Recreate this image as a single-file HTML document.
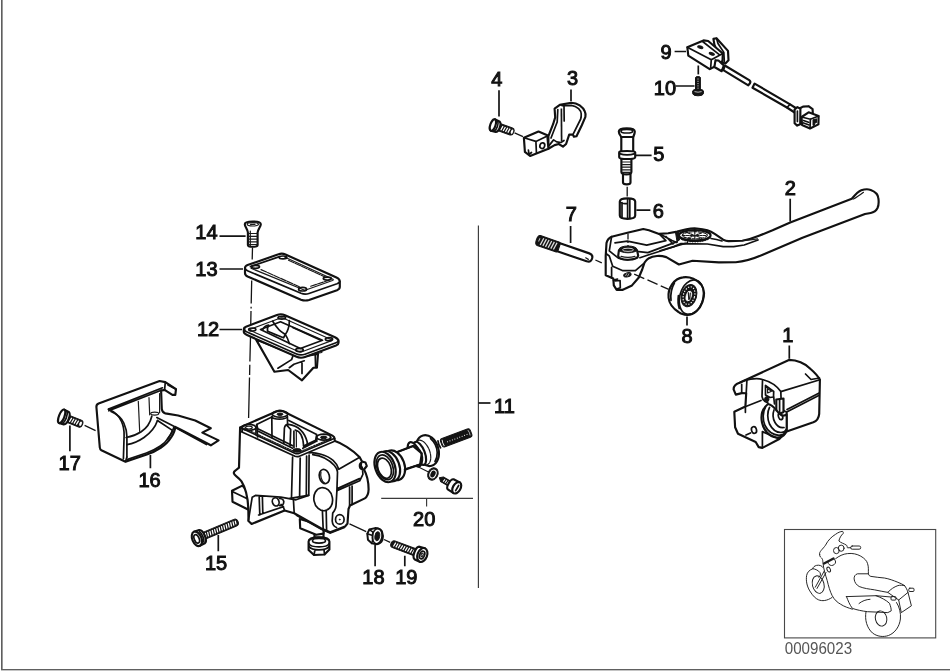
<!DOCTYPE html>
<html>
<head>
<meta charset="utf-8">
<title>Parts diagram</title>
<style>
html,body{margin:0;padding:0;background:#fff;}
body{width:950px;height:671px;overflow:hidden;position:relative;font-family:"Liberation Sans",sans-serif;}
svg{position:absolute;left:0;top:0;display:block;filter:grayscale(1);}
.p{fill:#fff;stroke:#111;stroke-width:2.15;stroke-linejoin:round;stroke-linecap:round;}
.l{fill:none;stroke:#111;stroke-width:1.7;stroke-linejoin:round;stroke-linecap:round;}
.t{fill:none;stroke:#1a1a1a;stroke-width:1.2;stroke-linejoin:round;stroke-linecap:round;}
.k{fill:#141414;stroke:#141414;stroke-width:1;stroke-linejoin:round;}
.ld{fill:none;stroke:#141414;stroke-width:1.7;}
.ax{fill:none;stroke:#141414;stroke-width:1.3;}
.g{fill:none;stroke:#3a3a3a;stroke-width:1.15;}
.n{font-family:"Liberation Sans",sans-serif;font-size:20px;fill:#111;stroke:#111;stroke-width:1.0;text-anchor:middle;}
.b{fill:none;stroke:#1c1c1c;stroke-width:0.95;stroke-linejoin:round;stroke-linecap:round;}
</style>
</head>
<body>
<svg width="950" height="671" viewBox="0 0 950 671">
<!-- FRAME -->
<g id="frame">
<rect x="1" y="0" width="1" height="670" fill="#5e5e5e"/>
<rect x="2" y="0" width="1" height="670" fill="#9a9a9a"/>
<rect x="1" y="669" width="949" height="1" fill="#606060"/>
<rect x="1" y="670" width="949" height="1" fill="#c4c4c4"/>
</g>
<!-- LEADERS -->
<g id="leaders">
<path class="ld" d="M219.5,236.1H245.6M219.5,269H243M219.5,329.5H242M69.9,425.6V451.2M150.4,455V468.3M218.3,535V551.2M375.1,544.4V566.2M404.8,555.8V566.2M499,90.3V116.4M571,89.5V101.3M635.2,155.4H651.6M636.4,210.2H650.4M674.6,51.5H686M675.6,86H694.5M570.6,226V243M790.2,198.8V221.6M687,316.5V325.6M789.3,345.5V358.7"/>
<path class="g" d="M478.4,225.6V588M381.2,498.4H473M426.6,498.4V506.5"/><path class="ld" stroke-width="1.4" d="M478.4,403H490.5"/>
</g>
<!-- PARTS-BEGIN -->
<!-- axis 14-13-12-body -->
<path class="ax" d="M252.5,247.5L252.2,259.5M251.7,280.5L251.2,303.5M251.1,306.8L251.1,308.6M251.0,311.0L250.7,327.0M250.5,337.0L249.9,361.5M249.8,364.8L249.6,375.0M249.5,377.5L248.6,418.0"/>
<!-- part 14 screw -->
<g id="p14">
<path class="p" d="M244.8,224.2C244.8,220.6 260.8,220.6 260.8,224.2C260.8,226.5 258,229 257.6,232.5L257.6,245C257.6,247.4 247.9,247.4 247.9,245L247.9,232.5C247.5,229 244.8,226.5 244.8,224.2Z"/>
<ellipse class="t" cx="252.8" cy="224.3" rx="5.6" ry="1.7"/>
<path class="t" d="M250.5,224.3H255M248.5,233.5H257M248.5,236.3H257M248.5,239.1H257M248.5,241.9H257M248.5,244.5H257M250.3,231V245.5"/>
</g>
<!-- part 13 gasket -->
<g id="p13">
<path class="p" d="M245,268Q245,266 247.6,265L278.5,254.3Q282,253 285.5,254.5L336.5,277.5Q339.8,279 339.8,281.5L339.8,287Q339.8,289 337,290.2L309,300Q305,301.2 301,299.7L247.6,276.5Q245,275.3 245,273Z"/>
<path class="l" d="M245.2,268.5Q245.7,270 248,271L301,293.3Q305,294.8 309,293.5L337,283.8Q339.6,282.8 339.8,281.5"/>
<path class="l" stroke-width="1.9" d="M250.5,266.6L279.5,256.6"/>
<path class="t" d="M284.5,257L332.5,279Q334,279.8 332.5,280.5L306.5,289.8Q305,290.3 303.5,289.7L251,268.3"/>
<path class="t" d="M288.5,260.2L326,277.4M261,269.6L299.7,286.9M310.7,286.2L329,280.2" stroke-dasharray="6 1.2"/>
<ellipse class="l" cx="255.5" cy="266.8" rx="4" ry="1.5"/>
<ellipse class="l" cx="283" cy="257.4" rx="3.8" ry="1.4"/>
<ellipse class="l" cx="327.3" cy="278.6" rx="4" ry="1.5"/>
<ellipse class="l" stroke-width="2" cx="302.6" cy="289.2" rx="4" ry="1.8"/>
</g>
<!-- part 12 diaphragm -->
<g id="p12">
<path class="p" d="M256.1,339.6L274.4,371.7L288.2,370L302,380.3L313.4,367.7L316.9,367.7L318,353.9L300,357Z"/>
<path class="l" d="M277.9,368.2L291.6,359.6L292.8,356.2M289.3,367.7L293.9,364.2L304.3,360.8M302,363L302,373.4M315.2,353.3L315.6,367"/>
<path class="t" d="M319.5,353L321.8,352.5L321.5,349.5"/>
<path class="p" d="M243.8,329Q243.8,327.5 246,326.7L277,315Q281,313.5 285,315.2L335,337.3Q338.5,339 338.5,341L338.5,343Q338.5,344.6 336,345.6L305,357Q300.5,358.6 296,356.6L247,335Q243.8,333.6 243.8,331.8Z"/>
<path class="l" d="M244,329.6Q244.6,331 247,332L296,353.8Q300.5,355.8 305,354.2L336,342.8Q338.3,342 338.5,341"/>
<path class="t" d="M250.5,329.3L280.5,318Q282,317.5 283.5,318.2L331,339.5Q332.3,340.3 331,340.9L302,351.8Q300.5,352.3 299,351.7L250.5,330.5Q249.5,329.9 250.5,329.3Z"/>
<path class="l" d="M260.5,329.5L280.5,321.8L322.5,340.3L300.3,348.5Z"/>
<path class="l" stroke-width="1.3" d="M272.7,321.2C275,325 277,327.5 279,329.8C281,332 283,333 285.3,334.4C287,337 288.3,340 289.3,343.6M289.3,320.6C289.5,323.5 289,326.5 288.2,328.7C287.5,331 286.5,333 285.3,334.4M263,329.2C264,327 266,325.5 268.7,325.2C267.5,327 267,329 267.5,331C272,333.5 278,335.5 283.6,337.8L285.3,334.4M292.8,327.5L320.3,340.1"/>
<ellipse class="l" cx="252.3" cy="329.5" rx="3.6" ry="1.5"/>
<ellipse class="l" stroke-width="2" cx="281.8" cy="317.7" rx="3.8" ry="1.4"/>
<ellipse class="l" cx="329" cy="339.2" rx="3.6" ry="1.5"/>
<ellipse class="l" stroke-width="2" cx="299.5" cy="350" rx="3.8" ry="1.6"/>
<path class="l" stroke-width="2.4" d="M244.6,328.3L244.6,331.5"/>
</g>
<!-- MAIN BODY -->
<g id="body">
<!-- bottom nut -->
<path class="p" d="M314.5,527L314.5,537.5L323.5,537.5L323.5,530Z"/>
<path class="p" d="M308.6,541.5C308.6,536 329.4,536 329.4,541.5L329.4,549.5L324.5,554.5L314,555L308.6,550Z"/>
<path class="l" d="M308.8,543.5C311,548 327,548 329.2,543.5M309,546.5C312,551 326,551 329,546.5M314,555L315,549.5M324.5,554.5L324,549.3"/>
<ellipse class="l" cx="319" cy="540.8" rx="6.5" ry="2.3"/>
<!-- pad -->
<path class="p" d="M299.8,519L300.2,528.3L316.2,534.8L323.5,533.6L323.5,526Z"/>
<!-- lower-left block -->
<path class="p" d="M242.3,485.6L232,490.8L232.5,501.8L248,509.5L252,496Z"/>
<path class="l" d="M232.2,491.5L246.8,498.6"/>
<!-- silhouette -->
<path class="p" d="M240.1,427.4L277,411.2Q280,409.9 283,411.3L332.5,435.6Q334.8,436.8 334.6,439.5L335,441C341,443 352,449 359.7,457.3L362,461.5L365.5,462.5L366.8,466L364,469.5C366.5,474 368.6,482 368.6,489.6C368.5,494 367,497 364.8,498.4L350,505.5L348.5,509L347.5,523.5L345,526.6L330.2,532.3L321.3,528.5L294.2,513.2L284.6,510.5L251.6,524L248.5,521L248.3,508C247.8,497 245,487 241.5,481.4C238,476.5 234,475.5 233.8,473.2Q233.6,471.5 235.5,470.5L239,467.6Z"/>
<!-- bracket flange -->
<path class="l" d="M248.4,520.7L252.2,497.2L255.4,495.4L280.8,497.2L296,499.8L308.6,495.4M259.2,497.2L259.8,515M262.4,497.2L262.8,513.2M258.6,515L283.3,506.7L284.6,510.5M283.5,506.8L281,504.5"/>
<ellipse class="l" cx="275.7" cy="501.9" rx="3.3" ry="4.2" transform="rotate(-20 275.7 501.9)"/>
<path class="l" d="M279.5,498.5C283,498.5 284.5,501 283.5,503.5C283,505 281,506 279.5,505.5"/>
<path class="l" d="M293.4,499.1L294.2,513.2"/>
<path class="ld" d="M296,515L321.3,529.2L330.2,533L345,527.3" stroke-width="2.2"/>
<!-- top rim -->
<path class="l" d="M240.3,428.3L240.8,431.4L295,456.3Q297.2,457.2 299.4,456.2L334,441.5"/>
<path class="l" d="M240.1,427.4L294.8,453.2Q297.1,454.2 299.4,453.2L334.6,438.3" stroke-width="1.8"/>
<path class="t" d="M244,428L293.5,451.2M300.5,451.5L331,438.6" stroke-dasharray="1.6 1.2" stroke-width="1.4"/>
<!-- inner opening -->
<path class="l" d="M257.8,428.7L256.6,424.4L272.4,416.8M288.8,420.5L316.7,434.4L315.4,441.8L302.8,448.3M257.8,431L292.6,448.3M257.8,428.7L292.8,445.8M303.5,446L315.6,440.3"/>
<path class="l" d="M256.8,424.5L257.6,437M271.8,417L272,437.5M287.4,416.5L287.6,426M271.7,416.5C273,420 286,420 287.5,416.5"/>
<ellipse class="l" cx="280" cy="414" rx="7.8" ry="3.2"/>
<ellipse class="k" cx="280" cy="414.2" rx="3" ry="1.2"/>
<!-- D arch -->
<path class="l" d="M283.8,443.3L284.4,428.1Q285,424.3 288.5,424.4C296,425.5 304,430 307.2,442L307.3,445.5M290.1,445.8L290.7,429.3M295.2,430C299.5,431 303,435 303.6,445.8M286.5,425L290.7,429.3"/>
<path class="ld" d="M293.9,430.5L294,448.3" stroke-width="2"/>
<path class="t" d="M296.3,431L296.4,447"/>
<!-- corner bosses -->
<ellipse class="l" cx="248.9" cy="427.4" rx="7" ry="3"/>
<ellipse class="t" cx="248.9" cy="427.6" rx="3.4" ry="1.4"/>
<path class="l" d="M242,428L242.3,431.5M255.9,428L256,433"/>
<ellipse class="l" cx="323.7" cy="437.2" rx="7" ry="3"/>
<ellipse class="k" cx="323.7" cy="437.4" rx="3.2" ry="1.3"/>
<path class="l" d="M316.8,437.5L316.8,441.3M330.6,437.6V439.8"/>
<ellipse class="k" cx="297.1" cy="450.4" rx="4.2" ry="1.8"/>
<!-- front vertical edges -->
<path class="l" d="M292.6,457.2L291.5,497.8M300.2,458L299.6,497M306.6,456L306.3,495.5M309.1,455L308.8,495.3" />
<path class="l" d="M290,498.4L308,495.3"/>
<!-- right block -->
<path class="l" d="M309,452.8C315,452 327,455 333.1,460.4C336,463 338,466.5 338.8,469.3L359.7,457.3M312.8,454.6C320,455.5 329,459.5 334.4,465.5C336.5,468 337.4,470 337.5,472L336.9,490.8L359.7,480.8L362.9,474.4M337.3,488.6L359.5,478.6M349.6,487L349.6,505.5M352.1,486L352.1,504.3M362.3,461.7C360.5,462.5 359.3,464.5 359.6,466.5C360,468.5 362,469.7 364,469.5M362.5,468.5L362.9,474.4M361.5,463.2C360.8,464.5 361,466.5 362.3,467.6"/>
<ellipse class="l" cx="324.4" cy="476.5" rx="5" ry="7.2" transform="rotate(-14 324.4 476.5)"/>
<path class="t" d="M321,472C320,476 321.5,481 324.5,483"/>
<ellipse class="l" cx="323.2" cy="499.2" rx="9.3" ry="11.6" transform="rotate(-10 323.2 499.2)"/>
<path class="l" d="M322.4,510.5L323.2,529.6M326.2,510.3L326.6,530.6M336.9,490.8L336,506C335.8,509 334,511.5 332.7,513.1L332.2,521C332.5,524.5 334,526.5 336.5,527.5"/>
<ellipse class="l" cx="339.8" cy="519.4" rx="4.3" ry="4.8"/>
<circle class="k" cx="339.8" cy="519.6" r="0.5"/>
</g>
<!-- part 16 cover -->
<g id="p16">
<path class="p" d="M96.4,407Q96.2,404.5 98.6,403.4L159.6,381L165.3,382.1L176,389.2L175.3,394.9L172.4,394.9L164.6,389.9L161.1,390.6L161.8,409.1Q162.5,412.8 165.3,413.4L178.1,415.5L195.2,420.5L210.8,428.3L202.3,432.6L218.6,440.4L210.8,445.3L180.9,429.7L175.3,426.9C175,432 170,442 161.1,447.5C155,451.5 150,453.5 146.8,454.6L125.5,461.7L101.4,450.3Q100,449.5 99.8,447.5Z"/>
<path class="l" d="M108.5,409.1L162.5,387.8M108.8,410.8L161.3,390.2" />
<path class="l" d="M108.5,409.3C114,411.5 119,416 121.5,421.5C123.5,426 124.3,431 124.1,436L123.4,458.8"/>
<path class="l" d="M111,411.5C117,414 121.5,418 123.8,423C125.8,427.5 126.9,432 126.9,436.5L126.9,457"/>
<path class="l" d="M126.2,437.5C132,436.5 137,434.5 141.2,431.8C146,428.5 150,424 151.8,416.2M126.9,444.6C133,443.5 139,441 144,437.5C149,434 155,428 157.5,420.5M125.6,461.5L126.9,457"/>
<path class="t" d="M138.3,401.3L139.7,431.8M149,397.7L149.7,414.8M159.6,393.5L159.6,412.7"/>
<ellipse class="t" cx="154.7" cy="413.6" rx="4" ry="1.5"/>
<path class="l" d="M156.8,417.6L175.3,426.9M176.7,428.3L206.5,444.6M157.5,420.5L172.4,430.4C171,434.5 169,437 167.4,439"/>
<path class="l" d="M165.3,382.1L164.6,389.9M176,389.2L168,385"/>
<path class="l" stroke-width="1.4" d="M127,459.6L146.4,453C150,451.8 155,449.6 160.3,446C167,441.5 172.5,433 173.8,427.5"/>
</g>
<!-- screw 17 -->
<g transform="translate(58.8,415.2) rotate(21.5)">
<path class="k" d="M10,-3.7L22.8,-3.7Q25.5,-3.7 25.5,0Q25.5,3.7 22.8,3.7L10,3.7Z"/>
<path d="M13,-2.3L12.2,2.3M15.5,-2.3L14.7,2.3M18,-2.3L17.2,2.3M20.5,-2.3L19.7,2.3" stroke="#fff" stroke-width="1.3" fill="none"/>
<ellipse cx="23.4" cy="0" rx="1.2" ry="2.3" fill="#fff"/>
<path class="p" stroke-width="2.5" d="M3,-7.2L8,-6.7C11.5,-5.5 11.5,5.5 8,6.7L3,7.2Z"/>
<ellipse class="p" stroke-width="2.3" cx="3.1" cy="0" rx="2.7" ry="7.2"/>
<path class="l" stroke-width="1.8" d="M6.4,-6.4C8.5,-3.6 8.5,3.6 6.4,6.4"/>
</g>
<path class="ax" d="M84.6,425.4L95.6,430.6"/>
<!-- bolt 15 -->
<g transform="translate(196.9,538.8) rotate(-22.8)">
<path class="k" d="M6,-3.6L41.5,-3.6Q44.6,-3.6 44.6,0Q44.6,3.6 41.5,3.6L6,3.6Z"/>
<path d="M10,-2.2L9.2,2.2M12.5,-2.2L11.7,2.2M15,-2.2L14.2,2.2M17.5,-2.2L16.7,2.2M20,-2.2L19.2,2.2M22.5,-2.2L21.7,2.2M25,-2.2L24.2,2.2M27.5,-2.2L26.7,2.2M30,-2.2L29.2,2.2M32.5,-2.2L31.7,2.2M35,-2.2L34.2,2.2M37.5,-2.2L36.7,2.2M40,-2.2L39.2,2.2M42.3,-1.8L41.7,1.8" stroke="#fff" stroke-width="1.25" fill="none"/>
<path class="p" stroke-width="2.2" d="M0,-7.6L5.5,-7.2C9.5,-6.2 9.5,6.2 5.5,7.2L0,7.6Z"/>
<ellipse class="p" stroke-width="2.2" cx="0" cy="0" rx="4.6" ry="7.6"/>
<ellipse class="l" cx="-0.2" cy="0" rx="2.4" ry="4.4"/>
<path class="l" d="M5.2,-5.5C6.8,-3 6.8,3 5.2,5.5"/>
</g>
<!-- dash from body to nut 18 and bolt 19 -->
<path class="ax" d="M349.5,523.8L366.2,531.6M384,539.5L390.2,542.4"/>
<!-- nut 18 -->
<g id="p18" transform="translate(375.2,536.1) scale(0.92) translate(-375.2,-536.1)">
<path class="p" stroke-width="2.2" d="M366.6,533.5L368.8,529L375,527.4Q380,527.3 382.5,531Q384.4,535.5 383,540.5Q381,544.6 377,544.9L371.5,544L367.3,540Z"/>
<ellipse class="l" cx="377.4" cy="536.1" rx="5.2" ry="8.3" transform="rotate(8 377.4 536.1)"/>
<ellipse class="k" cx="377.5" cy="536.2" rx="2.6" ry="4.9" transform="rotate(8 377.5 536.2)"/>
<path class="l" d="M368.8,529L372.5,531.5L372.3,540.8L371.5,544M366.6,533.5L372.4,535.5"/>
</g>
<!-- bolt 19 -->
<g transform="translate(422.3,555) rotate(200.6)">
<path class="k" d="M6,-3.6L30.5,-3.6Q33.4,-3.6 33.4,0Q33.4,3.6 30.5,3.6L6,3.6Z"/>
<path d="M10,-2.2L9.2,2.2M12.5,-2.2L11.7,2.2M15,-2.2L14.2,2.2M17.5,-2.2L16.7,2.2M20,-2.2L19.2,2.2M22.5,-2.2L21.7,2.2M25,-2.2L24.2,2.2M27.5,-2.2L26.7,2.2M30,-2.2L29.2,2.2" stroke="#fff" stroke-width="1.25" fill="none"/>
<path class="p" stroke-width="2.2" d="M0,-7.2L5.5,-6.8C9.3,-5.8 9.3,5.8 5.5,6.8L0,7.2Z"/>
<ellipse class="p" stroke-width="2.2" cx="0" cy="0" rx="4.8" ry="7.2"/>
<ellipse class="l" cx="0.2" cy="0" rx="2.4" ry="4"/>
<ellipse class="t" cx="0.2" cy="0" rx="1" ry="1.8"/>
</g>
<!-- piston 20 -->
<g id="p20">
<ellipse class="p" cx="427.3" cy="450.6" rx="11.2" ry="15.8" transform="rotate(-16 427.3 450.6)"/>
<path class="l" stroke-width="2" d="M430.6,438.6C434.5,442 437,446.5 437.2,452.5C437.3,456 436.5,459 435,461.5"/>
<ellipse class="t" cx="422.6" cy="452.6" rx="7.2" ry="13" transform="rotate(-21 422.6 452.6)" stroke-dasharray="3.5 1"/>
<ellipse class="p" stroke-width="1.4" cx="419.6" cy="453.3" rx="5.2" ry="12.2" transform="rotate(-21 419.6 453.3)"/>
<ellipse class="p" cx="414.6" cy="454.4" rx="5.6" ry="12.9" transform="rotate(-21 414.6 454.4)"/>
<path class="p" stroke="none" d="M396,452.6L412.9,446L421.8,453.3L420.1,464.6L404,470Z"/>
<path class="l" stroke-width="2" d="M412.9,446A5.6,10 -21 0 1 420.1,464.6"/>
<!-- front rings -->
<ellipse class="p" cx="394.2" cy="465.3" rx="10.2" ry="15.4" transform="rotate(-20 394.2 465.3)"/>
<ellipse class="p" stroke-width="1.5" cx="389.4" cy="466.2" rx="9.9" ry="15.7" transform="rotate(-20 389.4 466.2)"/>
<ellipse class="p" stroke-width="2.2" cx="385.1" cy="467" rx="9.8" ry="15.8" transform="rotate(-20 385.1 467)"/>
<ellipse class="l" cx="384.9" cy="467.3" rx="7.9" ry="12.8" transform="rotate(-20 384.9 467.3)"/>
<ellipse class="l" cx="384.4" cy="468.2" rx="6.4" ry="10.5" transform="rotate(-20 384.4 468.2)"/>
<path class="l" stroke-width="1.8" d="M397.4,452L412.9,446.2M404.6,469.4L420,464.4"/>
</g>
<!-- thin line to washer -->
<path class="t" d="M418,466.8L428.5,472"/>
<!-- washer -->
<g id="washer">
<ellipse class="k" cx="432.9" cy="474" rx="5" ry="6.4" transform="rotate(25 432.9 474)"/>
<ellipse cx="433" cy="474" rx="2.9" ry="4.1" transform="rotate(25 433 474)" fill="none" stroke="#fff" stroke-width="1"/>
</g>
<!-- small screw -->
<g transform="translate(455,486.8) rotate(210)">
<path class="k" d="M4,-2.7L15,-2.7L18,0L15,2.7L4,2.7Z"/>
<path d="M8.5,-1.5L8,1.5M10.7,-1.5L10.2,1.5M12.9,-1.5L12.4,1.5" stroke="#fff" stroke-width="1.1" fill="none"/>
<path class="p" stroke-width="2" d="M-2,-6.2L5,-5.8C8,-5 8,5 5,5.8L-2,6.2Z"/>
<ellipse class="p" stroke-width="2" cx="-2" cy="0" rx="3.8" ry="6.2"/>
<path class="l" d="M-2.5,-3V3"/>
</g>
<!-- spring -->
<g transform="translate(441.3,443.5) rotate(-20.6)">
<rect class="k" x="0" y="-4.4" width="31.8" height="8.8" rx="2.4"/>
<path class="l" stroke-width="1.3" d="M-2.2,-3.6Q-3.2,0 -2.2,3.8"/>
<path d="M2,-3.3Q1.2,0 2,3.3" stroke="#fff" stroke-width="0.9" fill="none"/>
<path d="M6,0.6H29" stroke="#fff" stroke-width="1" stroke-dasharray="0.9 1.7"/>
<path d="M29.6,-3.2Q30.6,0 29.8,2.6" stroke="#ddd" stroke-width="0.7" fill="none"/>
</g>
<!-- screw 4 -->
<g transform="translate(490,124) rotate(19.3)">
<path class="k" d="M10,-3.7L22.5,-3.7Q25.2,-3.7 25.2,0Q25.2,3.7 22.5,3.7L10,3.7Z"/>
<path d="M13,-2.3L12.2,2.3M15.5,-2.3L14.7,2.3M18,-2.3L17.2,2.3M20.5,-2.3L19.7,2.3" stroke="#fff" stroke-width="1.3" fill="none"/>
<ellipse cx="23.3" cy="0" rx="1.1" ry="2.3" fill="#fff"/>
<path class="p" stroke-width="2.5" d="M3,-6L8,-5.6C11.2,-4.6 11.2,4.6 8,5.6L3,6Z"/>
<ellipse class="p" stroke-width="2.3" cx="3.1" cy="0" rx="2.6" ry="6"/>
<path class="l" stroke-width="1.8" d="M6.4,-5.3C8.3,-3 8.3,3 6.4,5.3"/>
</g>
<path class="ax" d="M514.6,132.9L523,136.6"/>
<!-- clip 3 -->
<g id="p3">
<path class="p" stroke-width="2.1" d="M548.4,136.2L553.1,124.2L555.2,117.4L554.6,108.6L559.8,104.9L571.3,102.8Q576,103 579.7,105.4Q583.5,108 584.9,111.7Q586,114 585.4,116.9L581.8,125.2L576.5,136.2L573.9,136.7L572.9,134.6L569.2,134.6L566.1,144L563,146.6L558.8,144L554.6,145.1L548.4,148.7Z"/>
<path class="l" d="M561.9,105.6L571.3,105.4Q575.5,106 578.6,108.6Q581,111 581.2,113.8Q581.4,116.5 580.7,119L573.4,133.6"/>
<path class="l" d="M557.8,109.6L557.2,122L551,138M549.4,145.1L553.6,139.9L556.7,141.9L560.9,142.5L564,140.5"/>
<path class="ld" stroke="#333" stroke-width="2.3" d="M561.4,108.6L561.6,140.9"/>
<path class="l" d="M564,105.4L564.2,121"/>
<path class="p" stroke-width="2.1" d="M523.9,137.8L538.5,131.5L547.3,135.2L548.4,148.7L530.1,156L524.9,151.8Z"/>
<path class="l" d="M523.9,137.8L535.9,141.4L547.3,136M535.9,141.4L536.4,152.5M528.4,150L529,154.5L531.5,152.5"/>
<ellipse class="l" cx="542.3" cy="145.7" rx="2.4" ry="2.9" transform="rotate(15 542.3 145.7)"/>
</g>
<!-- pin 5 -->
<g id="p5">
<path class="p" d="M623,174L623,182.5Q623,184.3 626.8,184.3Q630.5,184.3 630.5,182.5L630.5,174Z"/>
<path class="p" d="M621.4,158.5L621.4,172Q621.4,174.3 626.4,174.3Q631.4,174.3 631.4,172L631.4,158.5Z"/>
<path class="t" d="M622.5,162H630.5M622.5,164.6H630.5M622.5,167.2H630.5M622.5,169.8H630.5M622.5,172.3H630.5"/>
<path class="p" d="M621.3,134L621.3,152L633.2,152L633.2,134Z"/>
<path class="p" stroke-width="2.1" d="M619.2,152.2Q619,151 627.1,151Q635.2,151 635.2,152.2L635.2,157.2Q635.2,159 627.1,159Q619.2,159 619.2,157.2Z"/>
<path class="l" d="M619.4,153.6Q627,156.3 635,153.6"/>
<path class="p" stroke-width="2.1" d="M618.8,131.5C618.8,127.3 634.8,127.3 634.8,131.5C634.8,134 633.6,135.5 633.2,137L621.3,137C620.5,135.5 618.8,134 618.8,131.5Z"/>
<ellipse class="l" cx="626.8" cy="131.2" rx="5.8" ry="1.8"/>
</g>
<path class="ax" d="M627.2,186.8V196.6"/>
<!-- bushing 6 -->
<g id="p6">
<path class="p" stroke-width="2.2" d="M619.8,201.5Q619.8,198.3 627.5,198.3Q635.2,198.3 635.2,201.5L635.2,215.5Q635.2,218.8 627.5,218.8Q619.8,218.8 619.8,215.5Z"/>
<path class="l" d="M622,202.5V217.5M627.6,199V218.5M629.8,199V218.5M619.9,202Q622,204.3 627.6,203.5"/>
</g>
<!-- switch 9 -->
<g id="p9">
<path class="p" stroke-width="2" d="M714.4,44.6L713.4,38.9L716.5,38.3L728,50.9L728.5,60.2L725.4,63.4L721,62Z"/>
<path class="l" d="M723.8,52.4L724.3,61.5M716.5,38.3L718,43.5L723.8,52.4"/>
<path class="p" stroke-width="2" d="M687.3,47.2L703.5,40.4L708.2,41L722.8,53.5L722.5,61L713.9,67L709.7,69.1L688.3,55.6Z"/>
<path class="l" d="M687.3,47.2L711.3,59.7L722.8,53.5M711.3,59.7L710.6,68.6M702.6,41.5L719.6,54.8"/>
<ellipse class="k" cx="700.3" cy="47.2" rx="2.7" ry="1.2" transform="rotate(18 700.3 47.2)"/>
<ellipse class="k" cx="711.8" cy="53.8" rx="2.7" ry="1.2" transform="rotate(18 711.8 53.8)"/>
<path class="p" stroke-width="2" d="M715.5,60.2L714.4,67L721.7,71.2L723.8,65.5L718.5,60.5Z"/>
<!-- cable -->
<path class="p" d="M724.8,65.5L749.2,80.2Q751,81.5 750,83.3L748.3,85.3L723.3,70.2Z"/>
<path class="p" d="M754.6,83.6L790.1,104.4L796.5,108.5L794.6,112.5L786.9,107.5L752.5,87.7Z"/>
<path class="l" d="M790.1,104.4L786.9,107.5"/>
<!-- connector -->
<path class="p" stroke-width="2.2" d="M799.5,108.5L803,106.6L808.5,106.2L812.6,109.2L812.8,113L806,122L800,124Z"/>
<path class="p" stroke-width="2.3" d="M794.6,109.5L797.4,107.2L800.4,108.6L800.2,124.3L797.2,125.6L794.6,123.2Z"/>
<path class="l" d="M797.4,111V121.5" stroke="#fff" stroke-width="0.8"/>
<path class="p" stroke-width="2.3" d="M801.6,117L808.6,112.3L818.6,116L818.4,124.4L810,128.5L802,125Z"/>
<path class="l" d="M801.6,117L810.4,119.2L818.6,116M810.4,119.2L810,128.3M803.5,120.5L808.5,122.2M803.5,123L808.5,124.8"/>
<path class="k" d="M813,119.8L816.6,118.8L816.5,122.6L814.6,123.2L814.4,125L813,125.4Z"/>
</g>
<!-- leader 9 to 10 -->
<path class="ld" d="M698.3,65.5V74.4"/>
<!-- screw 10 -->
<g id="p10">
<path class="k" d="M695.5,77.5Q695.5,76.6 698,76.6Q700.4,76.6 700.4,77.5L700.4,90L695.5,90Z"/>
<path d="M698,78.5V89" stroke="#fff" stroke-width="0.9" stroke-dasharray="1 1.3"/>
<path class="k" d="M692.6,91Q692.6,89.3 698,89.3Q703.5,89.3 703.5,91L703.4,93.8Q703,95.8 698,95.8Q693,95.8 692.7,93.8Z"/>
<path d="M694.5,91.6Q698,92.8 701.6,91.6" stroke="#fff" stroke-width="0.7" fill="none"/>
</g>
<!-- pin 7 -->
<g transform="translate(536.4,239.7) rotate(18.9)">
<path class="p" stroke-width="2.1" d="M22,-4.2L54.5,-4.2Q58.8,-4.2 58.8,0Q58.8,4.2 54.5,4.2L22,4.2Z"/>
<path class="k" d="M2.5,-5.2L22,-5.2Q24,-5.2 24,-3L24,3Q24,5.2 22,5.2L2.5,5.2Q0,5.2 0,0Q0,-5.2 2.5,-5.2Z"/>
<path d="M6.5,-3.8L5.3,3.8M9.3,-3.8L8.1,3.8M12.1,-3.8L10.9,3.8M14.9,-3.8L13.7,3.8M17.7,-3.8L16.5,3.8M20.5,-3.8L19.3,3.8" stroke="#ddd" stroke-width="1.3" fill="none"/>
<path d="M3,-2.5L2.6,1" stroke="#bbb" stroke-width="1" fill="none"/>
<path class="t" d="M52.5,1.2L55.5,1.8"/>
</g>
<path class="ax" d="M595.4,260L601.8,262.9"/>
<!-- lever 2 -->
<g id="p2">
<path class="p" stroke-width="2" d="M606.5,243Q607.5,238.5 611.6,236.7L627.4,232.8L643.3,229L648.9,230.2L659.1,233.9L668.2,233.3L677.2,231.6L686.3,229.2Q692,228.2 696.8,228.5Q703,229 707.4,230.3Q711,231.5 714.7,233.9L723.2,239.7Q726,241 728.4,241.1L742.3,240.7Q750,239.5 759,235.8L772.6,230.3L790.2,222.5L851.8,198.8C855,195 858,191.5 861.3,190.3C865,189 868,189 870.7,189.9C875,191.5 878,194.5 878.3,197.9C879,202 878.7,205.5 877.4,208.3C876,211 873.5,212.5 870.7,213L865,214L802.5,237.7L762.7,254.7C755,258 745,261.5 735.8,262.2L718.9,262.4L692.6,260.8L678.9,264.5L666.3,257.1Q661,255.5 656.9,256Q652,256.5 648.9,258.2Q646,260 644.4,262.8L642.2,269.5L638.8,277.5L632,285.4L622.3,289.9L616.7,289.9L613.8,285.4L613.3,278.6L605.7,275.2L605.7,256Z"/>
<!-- inner top contours -->
<path class="l" d="M615,242.9L627.4,241.2L646.7,245.2L665.9,240.7L659.1,233.9M638.8,251.7L647.8,252.6L670.5,244.1L677.2,241.8M639.9,257.7L648.9,254.8L677.2,245.8L688,242.6"/>
<path class="l" d="M611.6,236.7L609.3,250.9L618.4,258.2L627.4,260L637.6,257.7M605.9,253.5L609.3,256L612.7,266.2L622.9,270.7L635.4,270.7L643.3,263.9"/>
<path class="l" d="M611.6,267.3L611.6,278M615,280.9L620.1,280.5L620.3,287.7L616.7,289M613.5,280L617.5,279"/>
<!-- boss -->
<path class="p" stroke-width="1.5" d="M618.9,250.3L618.2,255.8Q618.5,259.5 628,259.8Q637.5,259.5 638.2,255.8L637.1,250.3Z"/>
<ellipse class="k" cx="628" cy="249.4" rx="9" ry="3.4"/>
<ellipse cx="628" cy="249.8" rx="5.5" ry="1.6" fill="none" stroke="#fff" stroke-width="0.8"/>
<path class="t" d="M621,256.3Q628,258.3 635,256.3"/>
<path class="ax" d="M628,233.5V246" stroke-dasharray="6 2 1.5 2"/>
<!-- lower screw blob -->
<ellipse class="k" cx="627.4" cy="274.8" rx="3.8" ry="2" transform="rotate(-15 627.4 274.8)"/>
<path d="M625.5,276L627,273.2M627.5,276.3L629,273.5" stroke="#fff" stroke-width="0.6"/>
<!-- adjuster wheel -->
<path class="k" d="M679,236C679,244 710.5,244 710.5,236Z"/>
<path d="M680.5,240.3Q694.8,245.2 709,240.3" stroke="#fff" stroke-width="1.3" stroke-dasharray="1.3 1.3" fill="none"/>
<ellipse class="p" stroke-width="1.7" cx="694.8" cy="235.3" rx="15.8" ry="5.2"/>
<ellipse class="t" cx="694.8" cy="235.3" rx="12.5" ry="3.6" stroke-dasharray="3 1.4"/>
<path class="t" d="M683,235.5H706.5M694.8,231.8V239M688,233L701.5,238M701.5,233L688,238" stroke-dasharray="2.2 1.2"/>
<path class="k" d="M675.5,232.5L678.8,231.7L679.5,240L677,241.5Z"/>
<path class="l" d="M660,234L672,240.5L676.8,242.5M666,236.5L673,244"/>
<!-- lines right of wheel -->
<path class="l" d="M660,250.8L673.7,246.6L681,243.6L707.4,244L723.2,246.6L733.7,246.6L744.2,245L758,240M711,238.5L716.5,239.5L722,241"/>
<path class="t" d="M742,240.7Q751,239.7 757.5,238.8M853.5,199C856.5,197.5 860,195 863.5,192.3"/>
</g>
<!-- dashed axis through lever to roller -->
<path class="ax" d="M634.2,274.1L668.7,289.3" stroke-dasharray="11 3.5"/>
<!-- roller 8 -->
<g id="p8">
<path class="p" stroke-width="2.3" d="M668.6,298C667.5,288 674,278.5 683,277.4C690,276.3 697.5,279.5 701.5,285C704.5,289.5 704.5,296 702.5,302C700,309.5 694,314.8 687.5,314.9C684,315 681,314 678.5,312C673,308.5 669.3,304 668.6,298Z"/>
<ellipse class="l" cx="691.4" cy="297.2" rx="11.6" ry="17.6" transform="rotate(16 691.4 297.2)"/>
<path class="l" d="M674.4,283C671.5,288 670.3,294 671,300.4M678.4,295.5C677.8,300 678,304.5 679.3,308.4"/>
<ellipse class="k" cx="689" cy="295.6" rx="7.6" ry="11.4" transform="rotate(16 689 295.6)"/>
<ellipse cx="689" cy="295.6" rx="5.6" ry="9" transform="rotate(16 689 295.6)" fill="none" stroke="#fff" stroke-width="1.1" stroke-dasharray="1.4 1.4"/>
<ellipse cx="688.8" cy="296" rx="2.6" ry="5" transform="rotate(16 688.8 296)" fill="#fff" stroke="#fff" stroke-width="0.6"/>
<path class="t" d="M688.3,292.5L688.8,299.5M690.3,293L689.8,299"/>
</g>
<!-- housing 1 -->
<g id="p1">
<path class="p" stroke-width="2.1" d="M733.6,389.4C733.5,386 736,384 739.5,382.8L788.9,359.9C797,360 805,363.5 810.3,368.8C814,372 818,376 819.9,379.8L819.2,413.8C818.8,418 816.5,421 813.3,422.3L786.7,431.6L779.3,439L762.4,447.9L758.7,447.1L755.7,442L738,433.8L735.1,427.2L734.3,411.7L745.4,406.6L746.2,393.3L741.7,393.1L735.8,394.6Z"/>
<path class="l" d="M741.7,393.1L741.7,384.3M746.2,393.3L746.9,380.5M745.4,412.3L745.4,406.4M745.8,406.5L761,400.5"/>
<path class="l" stroke-width="1.9" d="M739.5,382.8C745,379.5 756,377.5 762.6,379.5C770,381.5 777,386 780.8,391.6L781.5,409.3L786.7,412.3L786.7,431.6"/>
<path class="l" d="M780.8,391.6L819.9,379.8M805.5,374L811,379.5L819.5,378M786.7,412L819.2,395.3M787,409.6L819.2,392.9"/>
<!-- latch detail -->
<path class="l" d="M765.5,385.5L765.5,395L770,397.5L773.5,397L773.7,391.5Z"/>
<path class="t" d="M767.5,388.5L767.7,393L771.5,391.3Z"/>
<path class="l" d="M762.5,380.5L762,396.5C762.5,399.5 765,402 768,403M773.7,397L774.5,404"/>
<ellipse class="k" cx="766.8" cy="399.2" rx="2.2" ry="2.6"/>
<path class="p" stroke-width="1.6" d="M776.3,399.5L776.3,412L780.5,413.5L783.5,412L783.5,398.5Z"/>
<path class="l" d="M779.6,400V413"/>
<!-- big hole -->
<path class="p" stroke-width="1.9" d="M768,404C763,408 760.5,415 762,422.5C763.5,430 769,436.5 776.5,437.5C782,438 786.5,434.5 786.7,428L786.7,414C783,418 779,414 777,411C774,407 771,404.5 768,404Z"/>
<path class="l" d="M765.5,407C762.5,412 762.5,420 765,425.5C768,431.5 773,435 779,435.3C782.5,435.3 785,433.5 786.3,431M769.5,407.5C767,412 767.3,419 769.5,424C772,429 776,432.5 781,432.5C783.5,432.4 785.5,431 786.5,429.5M774,410C772.5,414 773,419 775,422.5C777,426 780.5,428 784,427.5"/>
<ellipse class="l" cx="780.5" cy="416.5" rx="2" ry="3.3" transform="rotate(-20 780.5 416.5)"/>
<ellipse class="l" cx="754" cy="430" rx="2.5" ry="3.4" transform="rotate(-15 754 430)"/>
<path class="l" d="M762.4,431.6L762.4,447.5M762.4,431.6L779.3,439M746,435L750.5,433"/>
</g>
<!-- inset -->
<g id="inset">
<rect x="784.5" y="529.5" width="151.2" height="108.4" fill="#fff" stroke="#484848" stroke-width="1.1"/>
<g class="b">
<path d="M819.6,554.5C818.5,552 823,549 825.5,545.2C828,540 832,536.5 835.6,534.3C838,532.5 840.5,531.5 842.3,531.4C843.5,531.5 843.3,532.5 843.2,533.4C841,535.5 839.5,538 838.9,541C841,543 844,543.5 846.5,545.2C847.5,546 847,547.5 847.5,547.8L850.7,547.7"/>
<rect x="850.7" y="546" width="10" height="3.2" rx="1.5"/>
<ellipse cx="836.4" cy="550.6" rx="2.9" ry="3.1"/>
<ellipse cx="841.2" cy="548.2" rx="2.9" ry="3.1"/>
<path d="M819.6,554.5C819.3,557 821.5,557.5 822.1,558.7C823,560 822.7,561.5 823,562.9C823.5,569 825.5,575 827.2,580.6C828.5,586 830,591.5 832.2,595.7C834.5,600 837.5,602.5 840.6,604.2C844,606.5 848.5,608 852.4,609.2"/>
<path d="M824,563.5L833.5,558.5" stroke-width="2.4"/>
<path d="M833.5,558.5C834.5,559.5 835.5,560.5 835.6,562C835.5,564 833.5,565.5 831.5,565.5C829.5,565.3 828,564 828,562.5"/>
<ellipse cx="828.7" cy="569.6" rx="1.6" ry="2.6" transform="rotate(-25 828.7 569.6)"/>
<path d="M835.6,558.7C839,556 843,554 847.4,553.6C852.5,553 857,554 860.8,556.2C864.5,558.3 867,561 867.6,563.7C868.8,567 868.2,570.5 868.4,573.8C868.8,575.5 869.8,576.2 871,576.4C875.5,577.3 880,577.4 884.4,578C889,578.8 893.5,580.5 897.9,582.3C900.5,583.3 903,584.4 904.6,585.6"/>
<path d="M868.4,573.8L857.5,573.8C855,574.5 854,576.5 854.1,578.9C854.5,582.5 856.5,585 859.2,586.5C864,588.5 869,589 874.3,589.8C879,590.6 883.5,591.8 887.8,592.4C891,589 894,587 897.9,585.6C900,585 902.5,585.2 904.6,585.6"/>
<path d="M904.6,585.6C906,587.5 907.3,590 908,592.4L898.7,600L901.3,612.6L911.4,605.8L908,592.4"/>
<rect x="908.8" y="588.2" width="5.2" height="3.3" rx="1"/>
<rect x="891" y="596.6" width="5" height="3.5" rx="1"/>
<path d="M887.8,592.4L898.7,600M876,595.7L891,597"/>
<path d="M846.5,596.6L876,595.7C881,597.5 886,600 889.5,603.3C890.5,606 891.3,608.5 891.2,610.9L887.8,612.6L867.6,611.7C862,611 857,610 852.4,608.4C849.5,604.5 848,600.5 846.5,596.6Z"/>
<path d="M859,603.5C862,601 866,599.5 870,599.3"/>
<path d="M823,567.5C822,565.5 819,564.8 816.5,565.4C814.5,566 813,567 812.9,568.7C809.5,570 807.3,572 806.6,575.5C805.8,581 807,587 810.5,592C813,596 815.5,598.5 818.5,599.8C822,601.3 827,601 832,597.5"/>
<path d="M812.9,568.7C815.5,569 818.5,570.5 820,572.6C821,574.5 820.3,576.3 818.8,577.2"/>
<ellipse cx="818.2" cy="584.6" rx="5.8" ry="8.9" transform="rotate(-14 818.2 584.6)"/>
<path d="M824.2,571.1L815.3,587.2M826,572.5L817,588.5"/>
<path d="M866,611.8C864.5,620 867,628 872.5,633C877,636.5 883,637.4 888.5,635.5C895,633 899.5,626.5 900.4,619C901,613 899.5,607 896.5,602.5"/>
<ellipse cx="881.1" cy="618.5" rx="5.7" ry="7.7" transform="rotate(-12 881.1 618.5)"/>
</g>
<text x="784.8" y="653.6" font-family="Liberation Sans, sans-serif" font-size="15.6px" fill="#555" style="font-weight:400" textLength="67.3" lengthAdjust="spacingAndGlyphs">00096023</text>
</g>
<!-- PARTS-END -->
<!-- LABELS -->
<g id="labels">
<text class="n" x="206.4" y="239.1">14</text>
<text class="n" x="206.4" y="275.7">13</text>
<text class="n" x="208" y="335.6">12</text>
<text class="n" x="69.7" y="470.2">17</text>
<text class="n" x="149.6" y="486.9">16</text>
<text class="n" x="216.1" y="570.1">15</text>
<text class="n" x="373.4" y="584.2">18</text>
<text class="n" x="406.3" y="584.2">19</text>
<text class="n" x="424.2" y="525.5">20</text>
<text class="n" x="504.4" y="412.6">11</text>
<text class="n" x="496.9" y="86.4">4</text>
<text class="n" x="572.5" y="85.4">3</text>
<text class="n" x="658.7" y="161.3">5</text>
<text class="n" x="658.2" y="217.5">6</text>
<text class="n" x="666.1" y="58.7">9</text>
<text class="n" x="664.9" y="94.7">10</text>
<text class="n" x="571.2" y="221.3">7</text>
<text class="n" x="790.2" y="194.5">2</text>
<text class="n" x="687" y="343.2">8</text>
<text class="n" x="787.8" y="341.7">1</text>
</g>
</svg>
</body>
</html>
